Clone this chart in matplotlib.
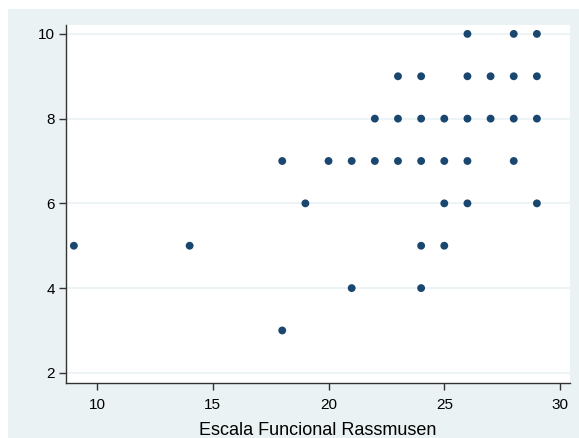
import matplotlib.pyplot as plt
from matplotlib.patches import Rectangle

plt.rcParams['font.family'] = ['Liberation Sans', 'DejaVu Sans']

# Escala Funcional Rassmusen (x) vs score (y)
rassmusen = [26, 28, 29,
             23, 24, 26, 27, 28, 29,
             22, 23, 24, 25, 26, 27, 28, 29,
             18, 20, 21, 22, 23, 24, 25, 26, 28,
             19, 25, 26, 29,
             9, 14, 24, 25,
             21, 24,
             18]
score = [10, 10, 10,
         9, 9, 9, 9, 9, 9,
         8, 8, 8, 8, 8, 8, 8, 8,
         7, 7, 7, 7, 7, 7, 7, 7, 7,
         6, 6, 6, 6,
         5, 5, 5, 5,
         4, 4,
         3]
xticks = [10, 15, 20, 25, 30]
yticks = [2, 4, 6, 8, 10]

bg = '#EAF2F3'
navy = '#1A476F'

W, H = 579, 438
fig = plt.figure(figsize=(W / 100, H / 100), dpi=100, facecolor='white')
# stata graph region (image is cropped with white strip top/left)
fig.patches.append(Rectangle((8 / W, 0), 1, (H - 9) / H, transform=fig.transFigure,
                             facecolor=bg, edgecolor='none', zorder=-10))

ax = fig.add_axes([66 / W, (H - 383) / H, (570 - 66) / W, (383 - 25) / H])
ax.set_zorder(1)
ax.set_facecolor('white')
ax.scatter(rassmusen, score, s=32, color=navy, edgecolors='none', zorder=3)

ax.set_xlim(8.66, 30.43)
ax.set_ylim(1.76, 10.21)
ax.set_xticks(xticks)
ax.set_yticks(yticks)
ax.yaxis.grid(True, color=bg, linewidth=1.2)
ax.set_axisbelow(True)

for s in ['top', 'right']:
    ax.spines[s].set_visible(False)
for s in ['left', 'bottom']:
    ax.spines[s].set_color('#333333')
    ax.spines[s].set_linewidth(1.0)
ax.tick_params(direction='out', length=5, width=1, color='#333333',
               labelsize=11, labelcolor='black', pad=3)
ax.tick_params(axis='x', pad=6)

ax.set_xlabel('Escala Funcional Rassmusen', fontsize=13, labelpad=7)

fig.savefig('out.png', dpi=100, facecolor=fig.get_facecolor())
